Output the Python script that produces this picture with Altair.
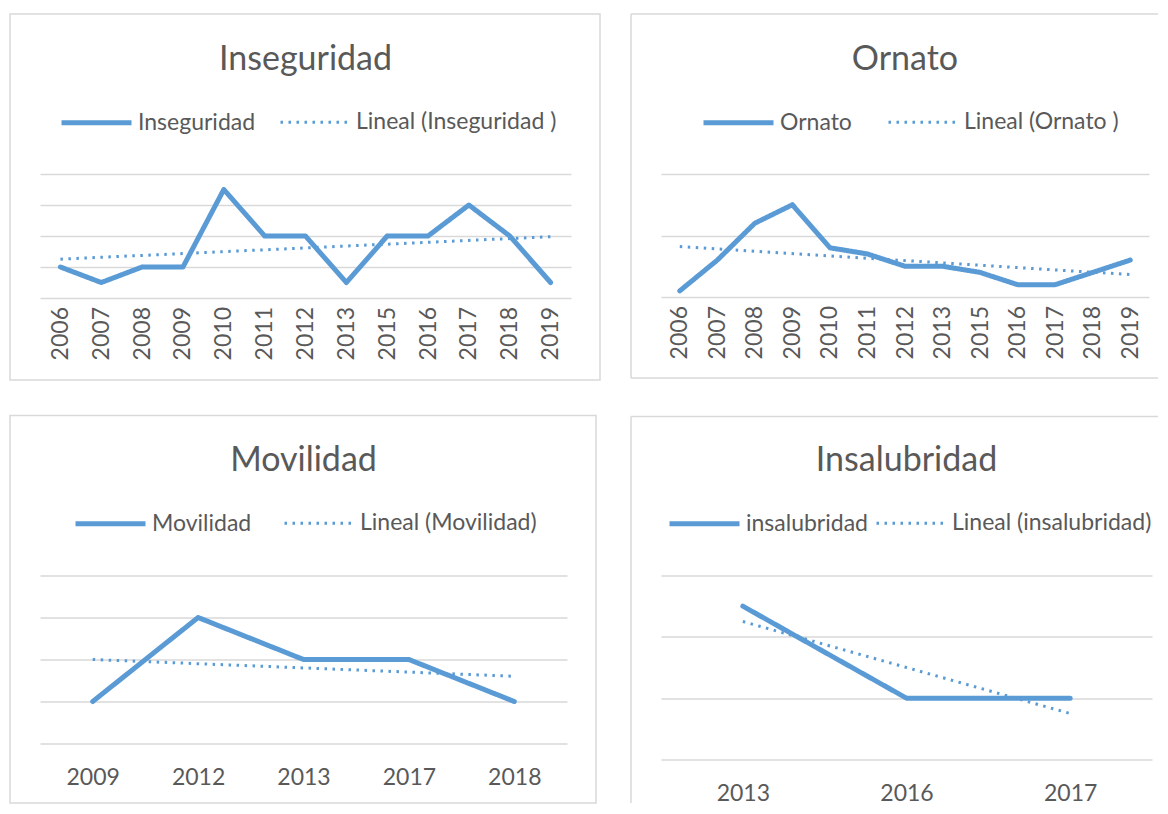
import altair as alt
import pandas as pd

BLUE = "#5B9BD5"
GRID = "#D9D9D9"
BORDER = "#D9D9D9"
TEXT = "#595959"
FONT = "Lato"

# ---- data ----
years_inseguridad = ["2006", "2007", "2008", "2009", "2010", "2011", "2012",
                     "2013", "2015", "2016", "2017", "2018", "2019"]
values_inseguridad = [2, 1, 2, 2, 7, 4, 4, 1, 4, 4, 6, 4, 1]

years_ornato = ["2006", "2007", "2008", "2009", "2010", "2011", "2012",
                "2013", "2015", "2016", "2017", "2018", "2019"]
values_ornato = [1, 6, 12, 15, 8, 7, 5, 5, 4, 2, 2, 4, 6]

years_movilidad = ["2009", "2012", "2013", "2017", "2018"]
values_movilidad = [1, 3, 2, 2, 1]

years_insalubridad = ["2013", "2016", "2017"]
values_insalubridad = [5, 2, 2]

titles = ["Inseguridad", "Ornato", "Movilidad", "Insalubridad"]
series_names = ["Inseguridad", "Ornato", "Movilidad", "insalubridad"]
trend_names = ["Lineal (Inseguridad )", "Lineal (Ornato )",
               "Lineal (Movilidad)", "Lineal (insalubridad)"]
y_max = [8, 20, 4, 6]
y_step = [2, 10, 1, 2]


def box_layers(kind, x1, x2, y1, y2):
    base = alt.Chart(alt.Data(values=[{}]))
    if kind == "rect":
        return [base.mark_rect(fillOpacity=0, stroke=BORDER, strokeWidth=1.5).encode(
            x=alt.value(x1), x2=alt.value(x2), y=alt.value(y1), y2=alt.value(y2))]
    layers = [
        base.mark_rule(stroke=BORDER, strokeWidth=1.5).encode(
            x=alt.value(x1), x2=alt.value(x2), y=alt.value(y1)),
        base.mark_rule(stroke=BORDER, strokeWidth=1.5).encode(
            x=alt.value(x1), y=alt.value(y1), y2=alt.value(y2)),
    ]
    if kind == "open_right":
        layers.append(base.mark_rule(stroke=BORDER, strokeWidth=1.5).encode(
            x=alt.value(x1), x2=alt.value(x2), y=alt.value(y2)))
    return layers


def panel(i, years, values, w, h, box, legend_xy, colpad, rotate, label_pad, title_y):
    n = len(years)
    df = pd.DataFrame({"idx": list(range(1, n + 1)), "value": values,
                       "serie": series_names[i]})
    dom = [series_names[i], trend_names[i]]
    label_expr = "[" + ", ".join("'%s'" % y for y in years) + "][datum.value - 1]"
    leg = dict(orient="none", legendX=legend_xy[0], legendY=legend_xy[1],
               direction="horizontal", title=None, symbolType="stroke",
               symbolSize=4900, labelFont=FONT, labelFontSize=23, labelColor=TEXT,
               labelOffset=4, columnPadding=colpad, labelLimit=400)
    enc = dict(
        x=alt.X("idx:Q",
                scale=alt.Scale(domain=[0.5, n + 0.5], nice=False, zero=False),
                axis=alt.Axis(values=list(range(1, n + 1)), labelExpr=label_expr,
                              title=None, grid=False, ticks=False, domain=False,
                              labelAngle=270 if rotate else 0,
                              labelPadding=label_pad, labelFontSize=23,
                              labelFont=FONT, labelColor=TEXT)),
        y=alt.Y("value:Q",
                scale=alt.Scale(domain=[0, y_max[i]], nice=False, zero=True),
                axis=alt.Axis(values=list(range(0, y_max[i] + 1, y_step[i])),
                              labels=False, ticks=False, domain=False, title=None,
                              grid=True, gridColor=GRID, gridWidth=1.3)),
        color=alt.Color("serie:N", scale=alt.Scale(domain=dom, range=[BLUE, BLUE]),
                        legend=alt.Legend(**leg)),
        strokeDash=alt.StrokeDash("serie:N",
                                  scale=alt.Scale(domain=dom, range=[[1, 0], [2.5, 5.5]]),
                                  legend=alt.Legend(**leg)),
        strokeWidth=alt.StrokeWidth("serie:N",
                                    scale=alt.Scale(domain=dom, range=[5, 3]),
                                    legend=alt.Legend(**leg)),
    )
    base = alt.Chart(df)
    line = base.mark_line(strokeCap="round", strokeJoin="round").encode(**enc)
    trend = (base.transform_regression("idx", "value")
             .transform_calculate(serie="'%s'" % trend_names[i])
             .mark_line(strokeCap="butt").encode(**enc))
    title = alt.Chart(alt.Data(values=[{}])).mark_text(
        font=FONT, fontSize=34, color=TEXT, align="center", baseline="alphabetic"
    ).encode(x=alt.value(w / 2), y=alt.value(title_y), text=alt.value(titles[i]))
    layers = box_layers(*box) + [title, line, trend]
    return alt.layer(*layers).properties(width=w, height=h)


p1 = panel(0, years_inseguridad, values_inseguridad, 531, 124,
           ("rect", -30, 560, -160, 206), (19, -89), 18, True, 8.5, -104)
p2 = panel(1, years_ornato, values_ornato, 488, 123,
           ("open_right", -30, 497, -160, 204), (40, -89), 30, True, 8.5, -104)
p3 = panel(2, years_movilidad, values_movilidad, 527, 168,
           ("rect", -30, 556, -160, 227.5), (33, -89.5), 26, False, 22.5, -104.5)
p4 = panel(3, years_insalubridad, values_insalubridad, 491, 184,
           ("open", -30, 497, -159, 227.5), (6, -89.5), 2, False, 22.5, -104.5)

chart = alt.concat(
    p1, p2, p3, p4, columns=2,
    spacing={"row": 277.5, "column": 90}, bounds="flush",
).resolve_scale(
    x="independent", y="independent", color="independent",
    strokeDash="independent", strokeWidth="independent",
).resolve_legend(
    color="independent", strokeDash="independent", strokeWidth="independent",
).properties(
    padding={"left": 0, "top": 4, "right": 0, "bottom": 0},
).configure(font=FONT).configure_view(stroke="transparent")

chart.save("out.html", embed_options={"renderer": "svg", "actions": False})
